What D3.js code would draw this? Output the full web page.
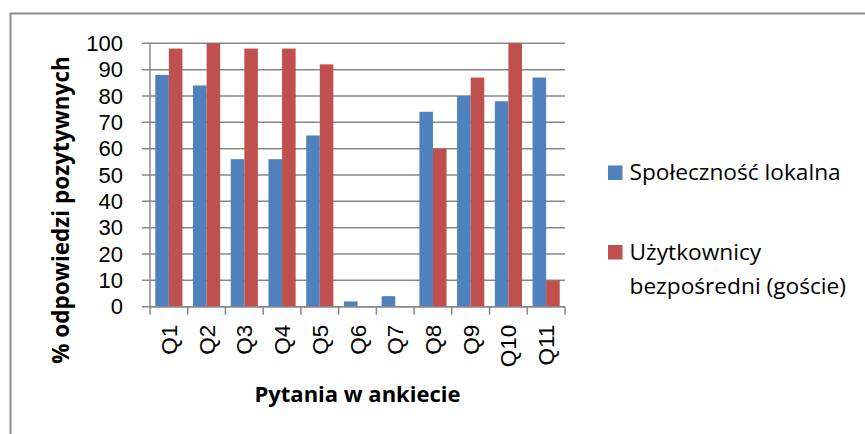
<!DOCTYPE html>
<html><head><meta charset="utf-8">
<script src="https://cdn.jsdelivr.net/npm/d3@7"></script>
<style>
html,body{margin:0;padding:0;background:#fff;}
svg{display:block;font-family:"Open Sans","Noto Sans",sans-serif;}
</style></head>
<body><svg id="c" width="865" height="434"></svg>
<script>
const categories = ["Q1","Q2","Q3","Q4","Q5","Q6","Q7","Q8","Q9","Q10","Q11"];
const seriesNames = ["Społeczność lokalna","Użytkownicy bezpośredni (goście)"];
const lokalna = [88,84,56,56,65,2,4,74,80,78,87];
const goscie = [98,100,98,98,92,0,0,60,87,100,10];
const yTicks = [0,10,20,30,40,50,60,70,80,90,100];
const colors = ["#4F81BD","#C0504D"];
const series = [lokalna, goscie];

const svg = d3.select("#c");
const L = 150, R = 565, T = 43.3, B = 306.7;
const gridColor = "#878787";

// outer border (right/bottom cut off)
svg.append("path").attr("d","M10.5,434 V13.5 H865").attr("fill","none").attr("stroke","#8c8c8c").attr("stroke-width",2);

const x = d3.scaleBand().domain(categories).range([L,R]).paddingInner(0).paddingOuter(0);
const y = d3.scaleLinear().domain([0,100]).range([B,T]);
const x1 = d3.scaleBand().domain([0,1]).range([0,x.bandwidth()]).paddingInner(0).paddingOuter(0.39);

// gridlines
svg.append("g").selectAll("line").data(yTicks).join("line")
  .attr("x1",L-8).attr("x2",R).attr("y1",d=>y(d)).attr("y2",d=>y(d))
  .attr("stroke",gridColor).attr("stroke-width",1.5);

// bars
series.forEach((vals,si)=>{
  svg.append("g").selectAll("rect").data(vals).join("rect")
    .attr("x",(d,i)=>x(categories[i])+x1(si))
    .attr("width",x1.bandwidth())
    .attr("y",d=>y(d))
    .attr("height",d=>y(0)-y(d))
    .attr("fill",colors[si]);
});

// y axis
const yAxis = svg.append("g").attr("transform",`translate(${L},0)`)
  .call(d3.axisLeft(y).tickValues(yTicks).tickSize(0).tickPadding(27));
yAxis.select(".domain").remove();
yAxis.append("line").attr("x1",0).attr("x2",0).attr("y1",T).attr("y2",B).attr("stroke",gridColor).attr("stroke-width",1.5);
yAxis.selectAll("text").attr("font-size",22).attr("fill","#000").attr("font-family","Liberation Sans");

// x axis
const xAxis = svg.append("g").attr("transform",`translate(0,${B})`)
  .call(d3.axisBottom(x).tickSize(0).tickFormat(""));
xAxis.select(".domain").remove();
xAxis.append("line").attr("x1",L).attr("x2",R).attr("y1",0).attr("y2",0).attr("stroke",gridColor).attr("stroke-width",1.5);
const bounds = categories.map(c=>x(c)).concat([R]);
xAxis.selectAll(".bt").data(bounds).join("line").attr("class","bt")
  .attr("x1",d=>d).attr("x2",d=>d).attr("y1",0).attr("y2",8)
  .attr("stroke",gridColor).attr("stroke-width",1.5);
xAxis.selectAll(".lbl").data(categories).join("text").attr("class","lbl")
  .attr("transform",d=>`translate(${x(d)+x.bandwidth()/2+8},18) rotate(-90)`)
  .attr("text-anchor","end").attr("font-size",22.5).attr("fill","#000")
  .text(d=>d);

// axis titles
svg.append("text").attr("transform","translate(69,210) rotate(-90)")
  .attr("text-anchor","middle").attr("font-weight","bold").attr("font-size",22.5)
  .text("% odpowiedzi pozytywnych");
svg.append("text").attr("x",357.5).attr("y",402)
  .attr("text-anchor","middle").attr("font-weight","bold").attr("font-size",22)
  .text("Pytania w ankiecie");

// legend
const lg = svg.append("g");
lg.append("rect").attr("x",608).attr("y",165.5).attr("width",14.5).attr("height",14.5).attr("fill",colors[0]);
lg.append("text").attr("x",629.5).attr("y",180).attr("font-size",22.7).text(seriesNames[0]);
lg.append("rect").attr("x",608).attr("y",245).attr("width",14.5).attr("height",14.5).attr("fill",colors[1]);
const t2 = lg.append("text").attr("x",629.5).attr("y",259.5).attr("font-size",22.7);
t2.append("tspan").attr("x",629.5).text("Użytkownicy");
t2.append("tspan").attr("x",629.5).attr("dy",34).text("bezpośredni (goście)");
</script></body></html>
